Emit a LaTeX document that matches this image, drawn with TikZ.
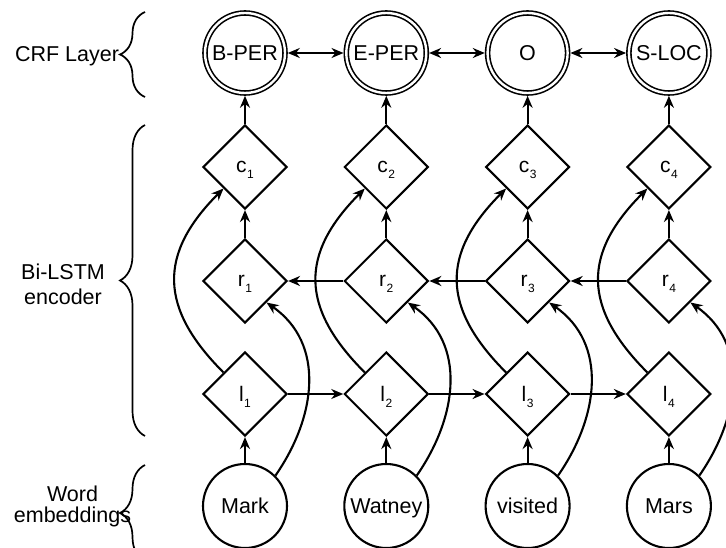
\documentclass[tikz,border=0pt]{standalone}
\usepackage{fontspec}
\setmainfont{Liberation Sans}
\usetikzlibrary{shapes.geometric,arrows.meta,decorations.pathreplacing}
\newcommand\subl[2]{#1\kern0.5pt\raisebox{-5.5pt}{\fontsize{12}{12}\selectfont #2}}
\begin{document}
\begin{tikzpicture}[x=1pt,y=-1pt,
  line width=2.1pt,
  every node/.style={font=\fontsize{21.5}{21.5}\selectfont},
  word/.style={circle,draw,minimum size=84pt,inner sep=0pt,text depth=0pt},
  tag/.style={circle,draw,double,line width=1.6pt,double distance=2.4pt,minimum size=80pt,inner sep=0pt,outer sep=2.8pt,text depth=0pt},
  cell/.style={diamond,draw,minimum width=84pt,minimum height=84pt,inner sep=0pt,aspect=1,font=\fontsize{21}{21}\selectfont,text depth=0pt},
  arr/.style={-{Stealth[length=12pt,width=10pt]}},
  darr/.style={{Stealth[length=12pt,width=10pt]}-{Stealth[length=12pt,width=10pt]}},
  brc/.style={decorate,decoration={brace,amplitude=25pt},line width=1.7pt},
  lab/.style={inner sep=0pt,align=center}
]
\useasboundingbox (0,0) rectangle (726,548);
\fill[white] (0,0) rectangle (726,548);

\foreach \i/\x/\w/\t in {1/245/Mark/B-PER,2/386.3/Watney/E-PER,3/527.6/visited/O,4/668.9/Mars/S-LOC} {
  \node[tag]  (t\i) at (\x,53)  {\t};
  \node[cell] (c\i) at (\x,167) {\subl{c}{\i}};
  \node[cell] (r\i) at (\x,281) {\subl{r}{\i}};
  \node[cell] (l\i) at (\x,394) {\subl{l}{\i}};
  \node[word] (w\i) at (\x,506) {\w};
}

\foreach \i in {1,...,4} {
  \draw[arr] (w\i) -- (l\i);
  \draw[arr] (r\i) -- (c\i);
  \draw[arr] (c\i) -- (t\i);
  \draw[arr] (l\i.north west) .. controls +(-65,-65) and +(-65,65) .. (c\i.south west);
  \draw[arr] (w\i.45) .. controls +(41,-59) and +(59,41) .. (r\i.south east);
}
\foreach \a/\b in {1/2,2/3,3/4} {
  \draw[arr] (l\a) -- (l\b);
  \draw[arr] (r\b) -- (r\a);
  \draw[darr] (t\a) -- (t\b);
}

\node[lab,anchor=base east] (crf) at (120,62) {CRF Layer};
\node[lab,font=\fontsize{21.5}{25}\selectfont] (bil) at (63,284) {Bi-LSTM\\encoder};
\node[lab,font=\fontsize{21.5}{21}\selectfont] (wem) at (72.5,506.5) {Word\\embeddings};

\coordinate (b1s) at (145,97);  \coordinate (b1e) at (145,12);
\coordinate (b2s) at (145,436); \coordinate (b2e) at (145,125);
\coordinate (b3s) at (145,561); \coordinate (b3e) at (145,465);
\draw[brc] (b1s) -- (b1e);
\draw[brc] (b2s) -- (b2e);
\draw[brc] (b3s) -- (b3e);
\end{tikzpicture}
\end{document}
